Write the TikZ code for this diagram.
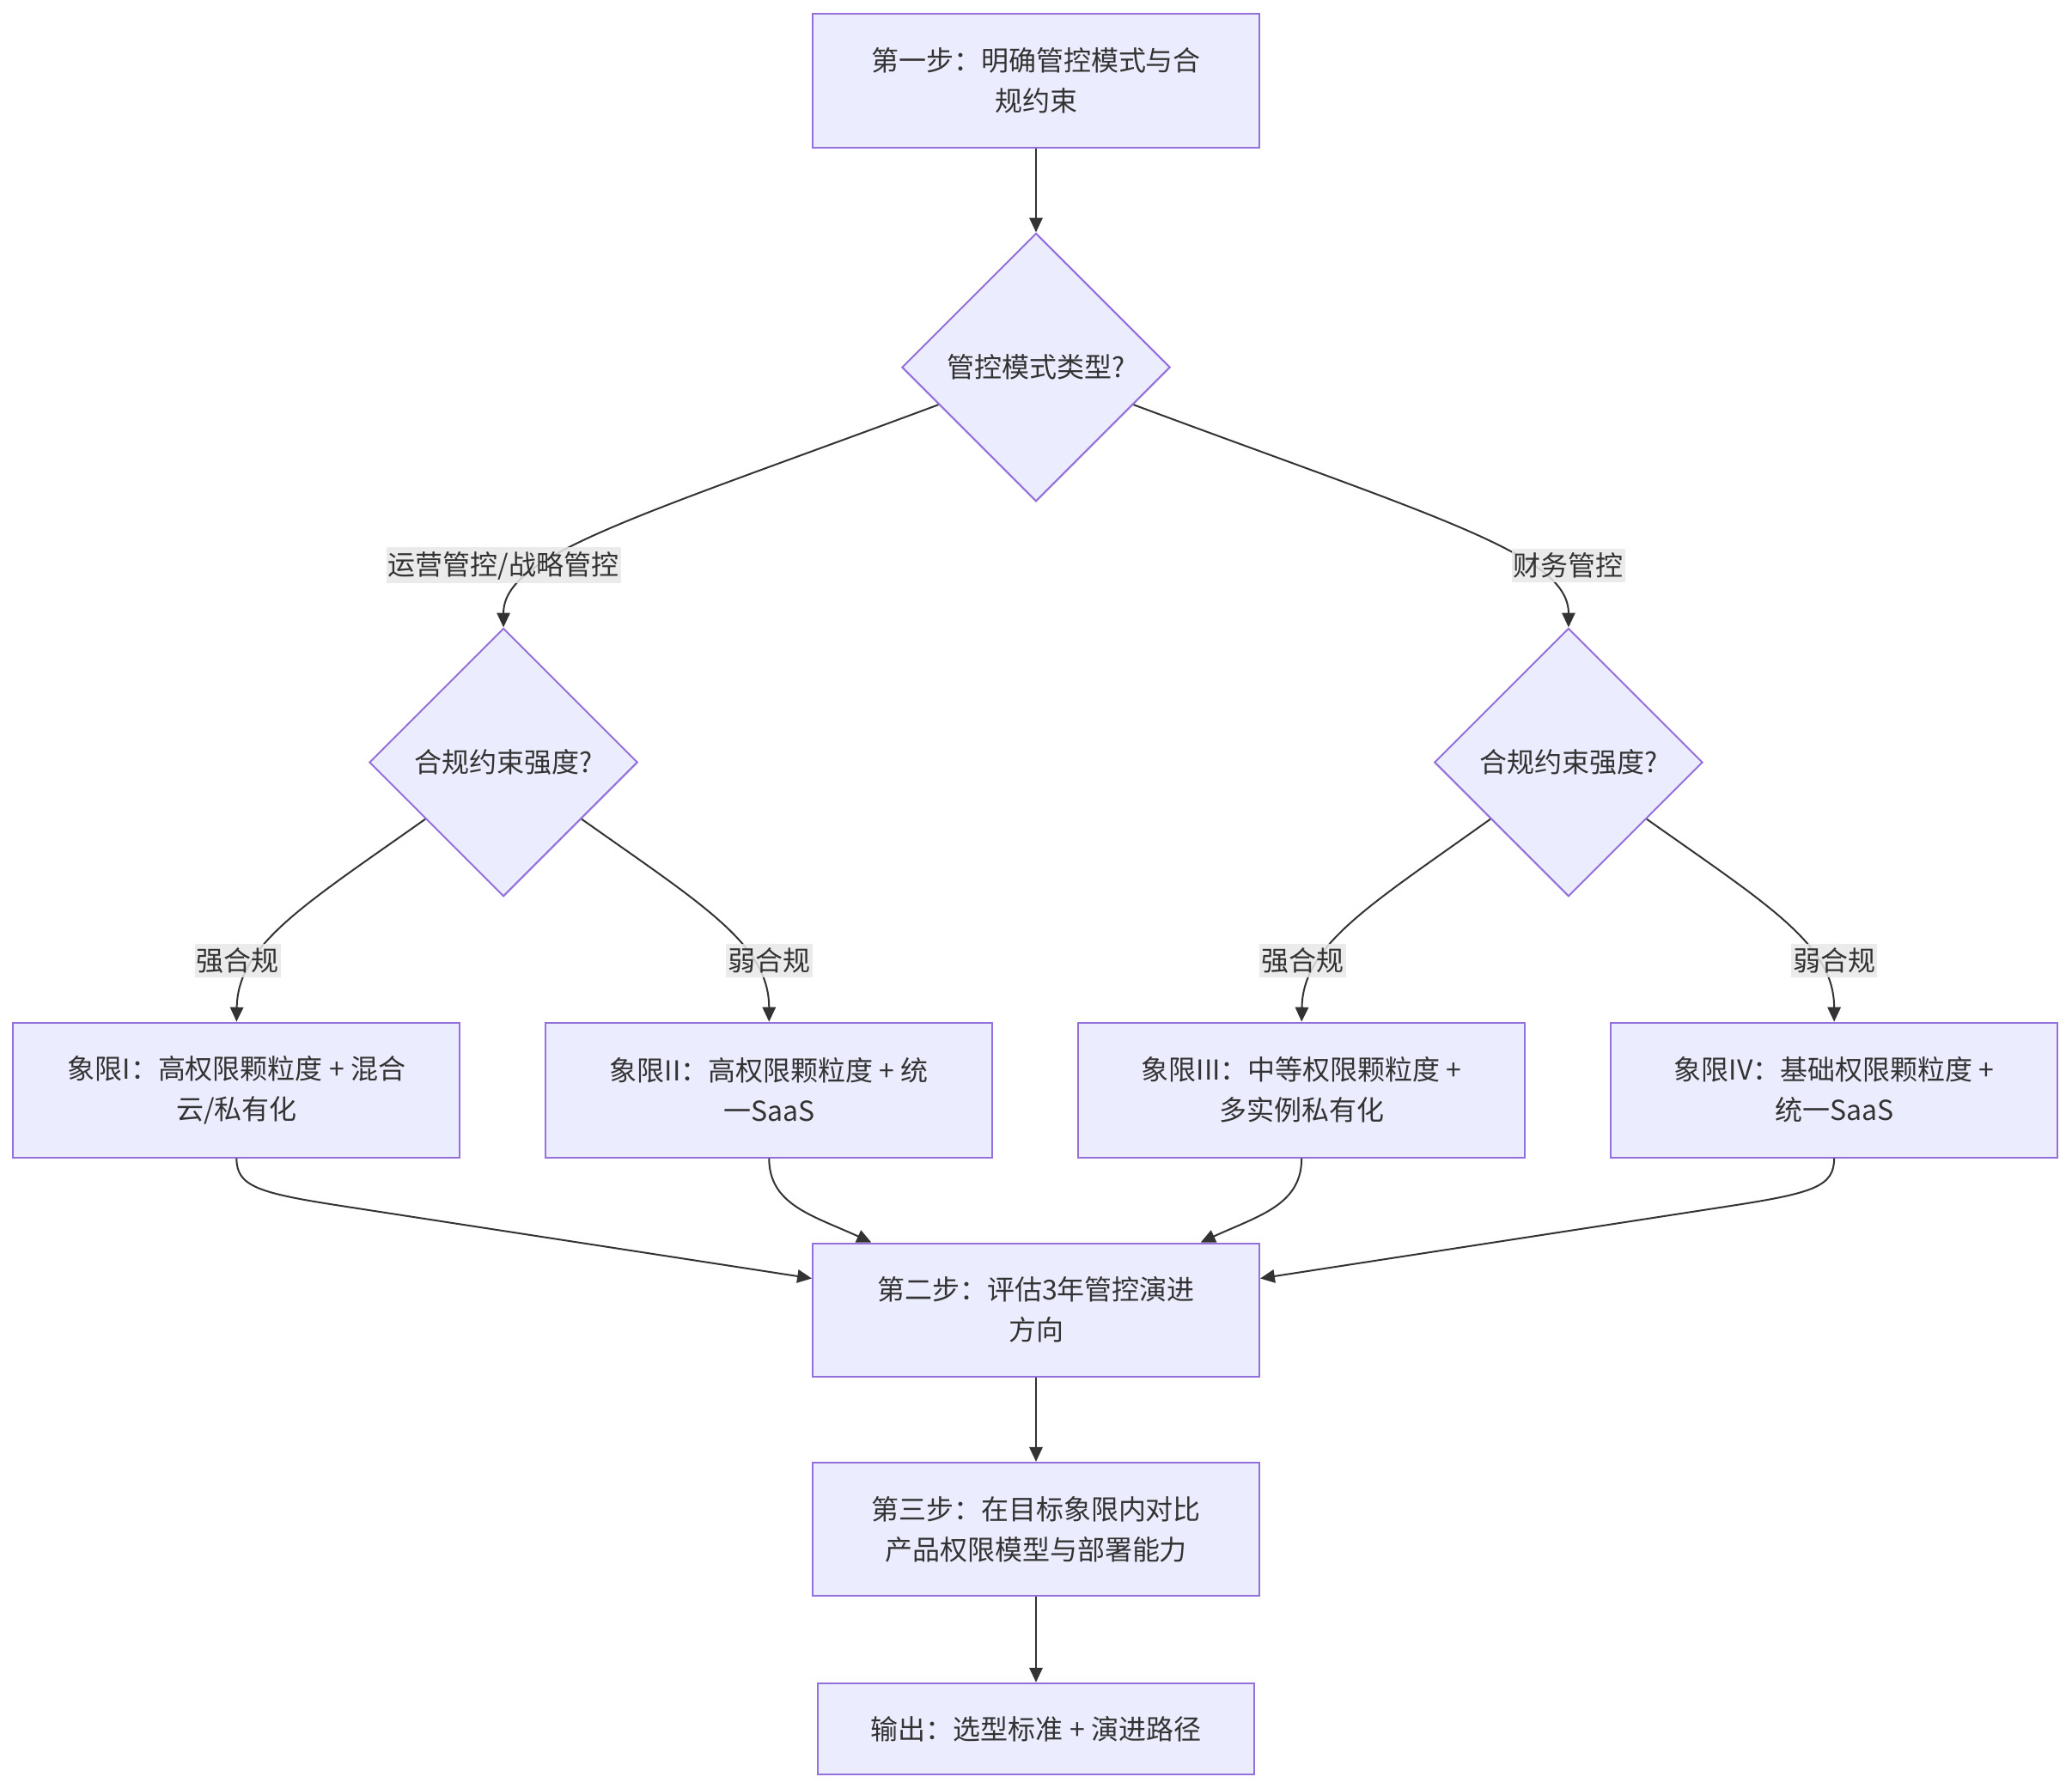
\documentclass[tikz,border=0pt]{standalone}
\usepackage{fontspec}
\setmainfont{Noto Sans CJK SC}
\usetikzlibrary{shapes.geometric,arrows.meta}
\definecolor{nodefill}{HTML}{ECECFF}
\definecolor{nodeline}{HTML}{9370DB}
\definecolor{edgecol}{HTML}{333333}
\definecolor{txt}{HTML}{333333}
\definecolor{lblbg}{HTML}{E8E8E8}
\begin{document}
\begin{tikzpicture}[x=1pt,y=-1pt,
  every node/.style={font=\fontsize{20.8}{30.5}\selectfont, text=txt},
  box/.style={draw=nodeline, fill=nodefill, line width=1.3pt, minimum width=338pt, minimum height=101pt, align=center, inner sep=0pt},
  dia/.style={draw=nodeline, fill=nodefill, line width=1.3pt, shape=diamond, minimum width=203pt, minimum height=203pt, inner sep=0pt},
  lbl/.style={fill=lblbg, fill opacity=0.85, text opacity=1, inner xsep=1.5pt, inner ysep=3pt},
  edge/.style={draw=edgecol, line width=1.3pt, -{Triangle[length=11pt,width=10pt]}},
]
\useasboundingbox (0,0) rectangle (1568,1354);

% nodes
\node[box] (b1) at (784,61) {第一步：明确管控模式与合\\规约束};
\node[dia] (d1) at (784,278) {管控模式类型?};
\node[dia] (d2) at (381,577) {合规约束强度?};
\node[dia] (d3) at (1187,577) {合规约束强度?};
\node[box, minimum height=102pt] (q1) at (179,825) {象限I：高权限颗粒度 + 混合\\云/私有化};
\node[box, minimum height=102pt] (q2) at (582,825) {象限II：高权限颗粒度 + 统\\一SaaS};
\node[box, minimum height=102pt] (q3) at (985,825) {象限III：中等权限颗粒度 +\\多实例私有化};
\node[box, minimum height=102pt] (q4) at (1388,825) {象限IV：基础权限颗粒度 +\\统一SaaS};
\node[box] (s2) at (784,991.5) {第二步：评估3年管控演进\\方向};
\node[box] (s3) at (784,1157.5) {第三步：在目标象限内对比\\产品权限模型与部署能力};
\node[box, minimum width=330pt, minimum height=69pt] (out) at (784,1308.5) {输出：选型标准 + 演进路径};

% edges
\draw[edge] (b1.south) -- (d1.north);
\draw[edge] (d1.201) .. controls (480,392) and (381,420) .. (d2.north);
\draw[edge] (d1.339) .. controls (1088,392) and (1187,420) .. (d3.north);
\draw[edge] (d2.216) .. controls (230,685) and (180,715) .. (q1.north);
\draw[edge] (d2.324) .. controls (532,685) and (582,715) .. (q2.north);
\draw[edge] (d3.216) .. controls (1037,685) and (986,715) .. (q3.north);
\draw[edge] (d3.324) .. controls (1338,685) and (1388,715) .. (q4.north);
\draw[edge] (q1.south) .. controls (179,898) and (195,903) .. (260,913) -- (s2.172);
\draw[edge] (q2.south) .. controls (582,912) and (615,920) .. ([xshift=45pt]s2.north west);
\draw[edge] (q3.south) .. controls (985,912) and (953,920) .. ([xshift=-45pt]s2.north east);
\draw[edge] (q4.south) .. controls (1388,898) and (1373,903) .. (1308,913) -- (s2.8);
\draw[edge] (s2.south) -- (s3.north);
\draw[edge] (s3.south) -- (out.north);

% edge labels
\node[lbl] (l1) at (381,428) {运营管控/战略管控};
\node[lbl] (l2) at (1187,428) {财务管控};
\node[lbl] (l3) at (180,727) {强合规};
\node[lbl] (l4) at (582,727) {弱合规};
\node[lbl] (l5) at (986,727) {强合规};
\node[lbl] (l6) at (1388,727) {弱合规};
\end{tikzpicture}
\end{document}
